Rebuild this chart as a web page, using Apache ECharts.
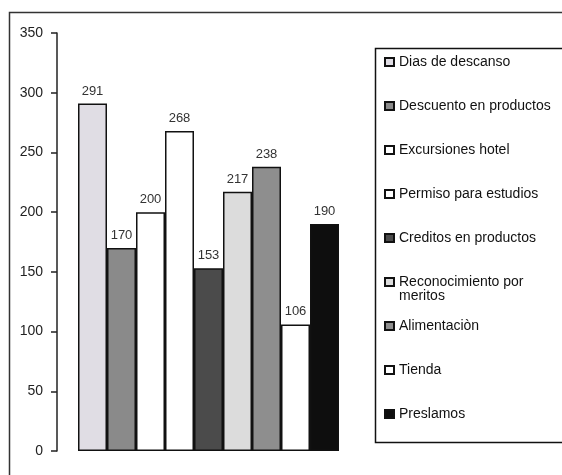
<!DOCTYPE html>
<html>
<head>
<meta charset="utf-8">
<script src="https://cdn.jsdelivr.net/npm/echarts@6/dist/echarts.min.js"></script>
<style>
  html, body { margin: 0; padding: 0; background: #fff; }
  #chart { width: 562px; height: 475px; }
</style>
</head>
<body>
<div id="chart"></div>
<script>
// datos
var categories = [''];
var seriesNames = [
  'Dias de descanso',
  'Descuento en productos',
  'Excursiones hotel',
  'Permiso para estudios',
  'Creditos en productos',
  'Reconocimiento por meritos',
  'Alimentaciòn',
  'Tienda',
  'Preslamos'
];
var seriesValues = [291, 170, 200, 268, 153, 217, 238, 106, 190];
var yTicks = [0, 50, 100, 150, 200, 250, 300, 350];

var fills = ['#e0dde4', '#8a8a8a', '#ffffff', '#ffffff', '#4b4b4b', '#dcdcdc', '#8e8e8e', '#ffffff', '#0e0e0e'];
var font = 'Liberation Sans, Arial';

var chart = echarts.init(document.getElementById('chart'));

var series = seriesNames.map(function (name, i) {
  return {
    name: name,
    type: 'bar',
    data: [seriesValues[i]],
    barWidth: 29,
    barGap: '0%',
    itemStyle: { color: fills[i], borderColor: '#111', borderWidth: 1.5 },
    label: {
      show: true,
      position: 'top',
      distance: 6,
      color: '#333',
      fontFamily: font,
      fontSize: 13
    }
  };
});

chart.setOption({
  animation: false,
  grid: { left: 57, right: 202, top: 33, bottom: 24 },
  xAxis: {
    type: 'category',
    data: categories,
    axisLine: { show: false },
    axisTick: { show: false },
    axisLabel: { show: false }
  },
  yAxis: {
    type: 'value',
    min: yTicks[0],
    max: yTicks[yTicks.length - 1],
    interval: 50,
    axisLine: { show: true, lineStyle: { color: '#222', width: 1.5 } },
    axisTick: { show: true, length: 6, lineStyle: { color: '#222', width: 1.5 } },
    axisLabel: { color: '#222', fontFamily: font, fontSize: 14, margin: 14 },
    splitLine: { show: false }
  },
  legend: {
    orient: 'vertical',
    left: 384,
    top: 41,
    padding: 0,
    itemGap: 2,
    itemWidth: 9,
    itemHeight: 8,
    icon: 'rect',
    data: seriesNames,
    // cada item mide 42px; "Reconocimiento" lleva una linea vacia arriba
    // para que el icono quede junto a la primera linea
    formatter: function (name) {
      if (name === 'Reconocimiento por meritos') {
        return '{e| }\n{b|Reconocimiento por}\n{b|meritos}';
      }
      return '{a|' + name + '}';
    },
    textStyle: {
      color: '#111',
      fontFamily: font,
      fontSize: 14,
      rich: {
        a: { fontFamily: font, fontSize: 14, color: '#111', lineHeight: 42, height: 42 },
        b: { fontFamily: font, fontSize: 14, color: '#111', lineHeight: 14, height: 14 },
        e: { fontFamily: font, fontSize: 14, lineHeight: 14, height: 14 }
      }
    }
  },
  graphic: [
    {
      type: 'rect',
      left: 7, top: 10,
      shape: { width: 620, height: 520 },
      style: { fill: 'none', stroke: '#333', lineWidth: 1.5 },
      silent: true
    },
    {
      type: 'rect',
      left: 373, top: 46,
      shape: { width: 260, height: 394 },
      style: { fill: 'none', stroke: '#111', lineWidth: 1.5 },
      silent: true
    }
  ],
  series: series
});
</script>
</body>
</html>
